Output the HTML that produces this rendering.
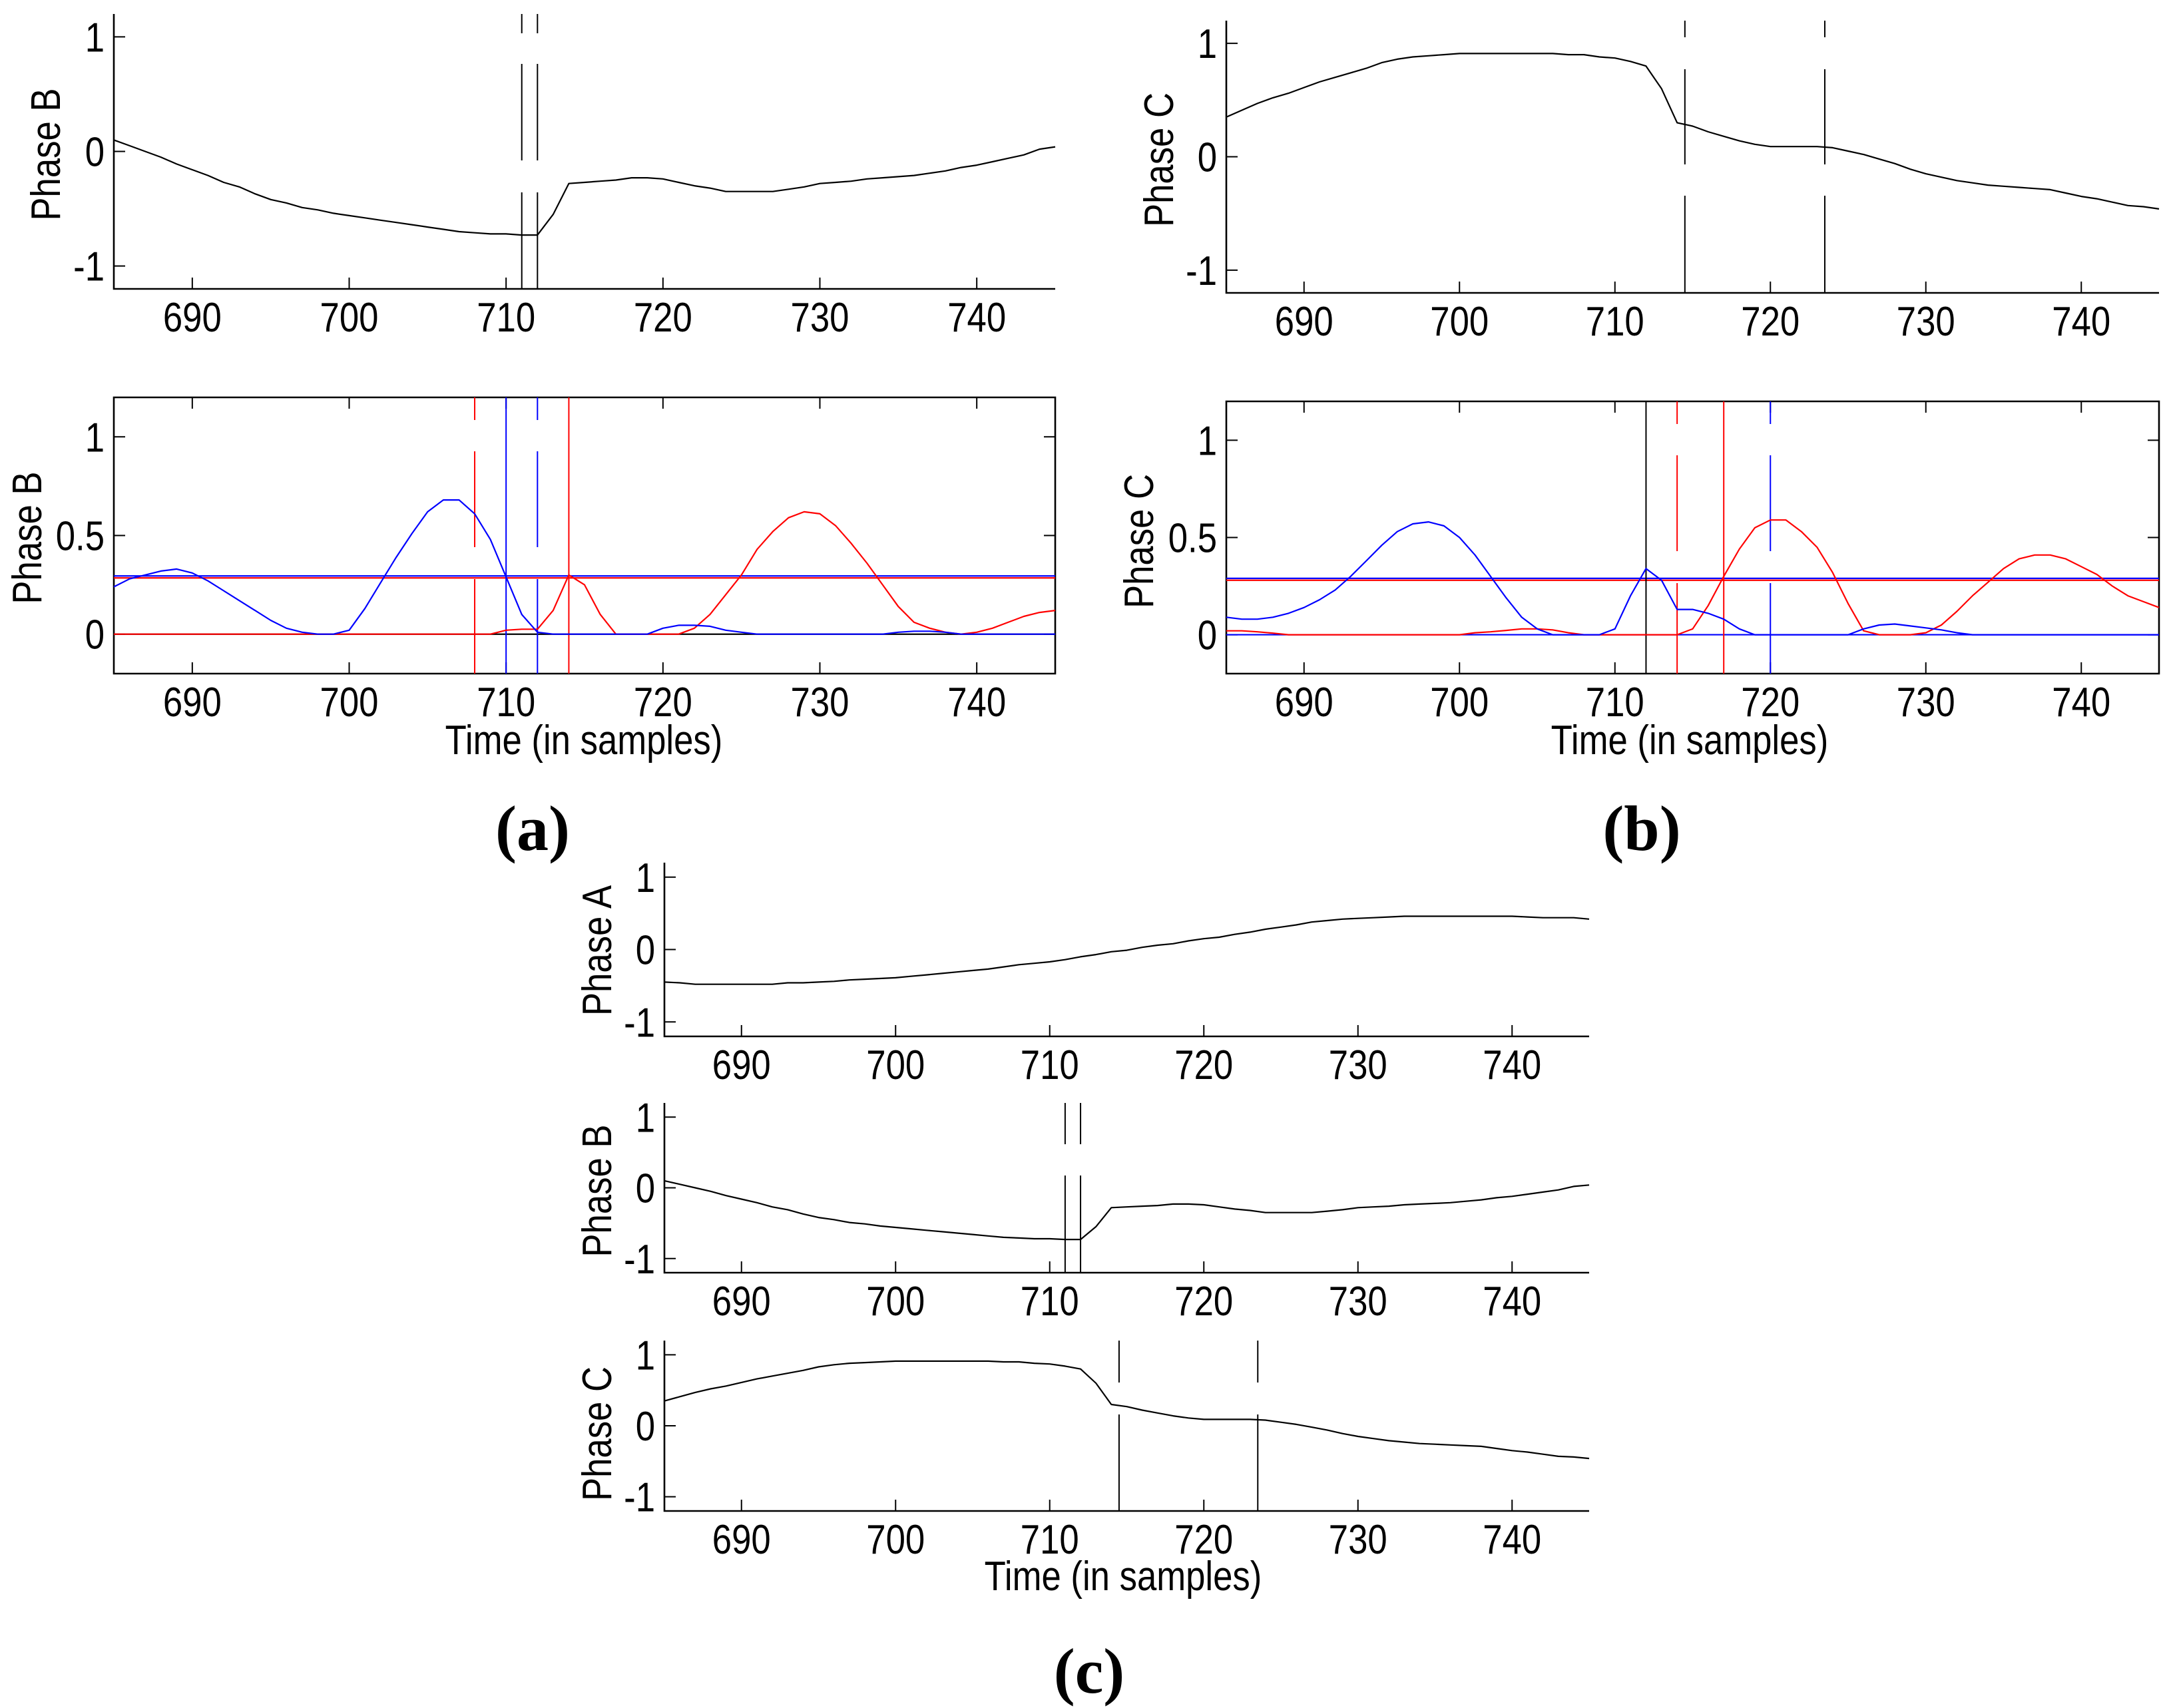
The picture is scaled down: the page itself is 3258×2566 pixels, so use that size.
<!DOCTYPE html>
<html><head><meta charset="utf-8"><style>
html,body{margin:0;padding:0;background:#fff;}
svg{display:block;}
text{font-family:"Liberation Sans",sans-serif;fill:#000;}
</style></head><body>
<svg id="fig" width="3258" height="2566" viewBox="0 0 3258 2566" xmlns="http://www.w3.org/2000/svg"></svg>
<script>
// ---- data (samples 685..745) ----
const samples = [];
for (let s = 685; s <= 745; s++) samples.push(s);
const xTicks = [690, 700, 710, 720, 730, 740];
const yTicksSignal = [-1, 0, 1];
const yTicksDetect = [0, 0.5, 1];
const yTickLabelsDetect = ["0", "0.5", "1"];

const phaseA = [-0.45,-0.46,-0.48,-0.48,-0.48,-0.48,-0.48,-0.48,-0.46,-0.46,
 -0.45,-0.44,-0.42,-0.41,-0.40,-0.39,-0.37,-0.35,-0.33,-0.31,
 -0.29,-0.27,-0.24,-0.21,-0.19,-0.17,-0.14,-0.10,-0.07,-0.03,
 -0.01,0.03,0.06,0.08,0.12,0.15,0.17,0.21,0.24,0.28,
 0.31,0.34,0.38,0.40,0.42,0.43,0.44,0.45,0.46,0.46,
 0.46,0.46,0.46,0.46,0.46,0.46,0.45,0.44,0.44,0.44,0.42];
const phaseB = [0.10,0.05,0.0,-0.05,-0.11,-0.16,-0.21,-0.27,-0.31,-0.37,
 -0.42,-0.45,-0.49,-0.51,-0.54,-0.56,-0.58,-0.60,-0.62,-0.64,
 -0.66,-0.68,-0.70,-0.71,-0.72,-0.72,-0.73,-0.73,-0.55,-0.28,
 -0.27,-0.26,-0.25,-0.23,-0.23,-0.24,-0.27,-0.30,-0.32,-0.35,
 -0.35,-0.35,-0.35,-0.33,-0.31,-0.28,-0.27,-0.26,-0.24,-0.23,
 -0.22,-0.21,-0.19,-0.17,-0.14,-0.12,-0.09,-0.06,-0.03,0.02,0.04];
const phaseC = [0.35,0.41,0.47,0.52,0.56,0.61,0.66,0.70,0.74,0.78,
 0.83,0.86,0.88,0.89,0.90,0.91,0.91,0.91,0.91,0.91,
 0.91,0.91,0.90,0.90,0.88,0.87,0.84,0.80,0.60,0.30,
 0.27,0.22,0.18,0.14,0.11,0.09,0.09,0.09,0.09,0.08,
 0.05,0.02,-0.02,-0.06,-0.11,-0.15,-0.18,-0.21,-0.23,-0.25,
 -0.26,-0.27,-0.28,-0.29,-0.32,-0.35,-0.37,-0.40,-0.43,-0.44,-0.46];
const blueB = [0.24,0.28,0.30,0.32,0.33,0.31,0.27,0.22,0.17,0.12,
 0.07,0.03,0.01,0,0,0.02,0.13,0.26,0.39,0.51,
 0.62,0.68,0.68,0.61,0.48,0.29,0.10,0.01,0,0,
 0,0,0,0,0,0.03,0.045,0.045,0.04,0.02,
 0.01,0,0,0,0,0,0,0,0,0,
 0.01,0.015,0.015,0.01,0,0,0,0,0,0,0];
const redB = [0,0,0,0,0,0,0,0,0,0,
 0,0,0,0,0,0,0,0,0,0,
 0,0,0,0,0,0.02,0.025,0.025,0.12,0.30,
 0.25,0.10,0,0,0,0,0,0.03,0.10,0.20,
 0.30,0.43,0.52,0.59,0.62,0.61,0.55,0.46,0.36,0.25,
 0.14,0.06,0.03,0.01,0,0.01,0.03,0.06,0.09,0.11,0.12];
const blueC = [0.09,0.08,0.08,0.09,0.11,0.14,0.18,0.23,0.30,0.38,
 0.46,0.53,0.57,0.58,0.56,0.50,0.41,0.30,0.19,0.09,
 0.03,0,0,0,0,0.03,0.20,0.34,0.28,0.13,
 0.13,0.11,0.08,0.03,0,0,0,0,0,0,
 0,0.03,0.05,0.055,0.045,0.035,0.025,0.01,0,0,
 0,0,0,0,0,0,0,0,0,0,0];
const redC = [0.02,0.02,0.015,0.008,0,0,0,0,0,0,
 0,0,0,0,0,0,0.01,0.015,0.022,0.03,
 0.03,0.025,0.01,0,0,0,0,0,0,0,
 0.03,0.15,0.30,0.44,0.55,0.59,0.59,0.53,0.45,0.32,
 0.16,0.02,0,0,0,0.01,0.05,0.12,0.20,0.27,
 0.34,0.39,0.41,0.41,0.39,0.35,0.31,0.25,0.20,0.17,0.14];
const thresholdsB = [0.295, 0.285];
const thresholdsC = [0.29, 0.28];
const markersAtopB = [711, 712];
const markersCtop = [714.5, 723.5];

// ---- drawing helpers ----
const NS = "http://www.w3.org/2000/svg";
const svg = document.getElementById("fig");
const FS = 62, SX = 0.85;
function el(tag, attrs, parent) {
  const e = document.createElementNS(NS, tag);
  for (const k in attrs) e.setAttribute(k, attrs[k]);
  (parent || svg).appendChild(e);
  return e;
}
function ctext(parent, x, y, txt, anchor, rot) {
  const t = el("text", {x: 0, y: 0, "font-size": FS, "text-anchor": anchor,
    transform: `translate(${x},${y})` + (rot ? " rotate(-90)" : "") + ` scale(${SX},1)`}, parent);
  t.textContent = txt;
  return t;
}
function makePanel(cfg) {
  const g = el("g", {});
  
  
  const sx = v => cfg.x0 + (v - 685) / 60 * (cfg.x1 - cfg.x0);
  const sy = v => cfg.y1 - (v - cfg.ymin) / (cfg.ymax - cfg.ymin) * (cfg.y1 - cfg.y0);
  cfg.sx = sx; cfg.sy = sy; cfg.g = g;
  return cfg;
}
function drawAxes(p, yt, ytl, box) {
  const g = p.g;
  const ax = el("path", {d: `M${p.x0},${p.y0} L${p.x0},${p.y1} L${p.x1},${p.y1}` + (box ? ` L${p.x1},${p.y0} Z` : ""), fill: "none", stroke: "#000", "stroke-width": 2.6}, g);
  
  
  xTicks.forEach(t => {
    const x = p.sx(t);
    el("line", {x1: x, x2: x, y1: p.y1, y2: p.y1 - 17, stroke: "#000", "stroke-width": 2}, g);
    if (box) el("line", {x1: x, x2: x, y1: p.y0, y2: p.y0 + 17, stroke: "#000", "stroke-width": 2}, g);
    const tx = ctext(g, x, p.y1 + 64, String(t), "middle", false);
    
    
  });
  yt.forEach((t, i) => {
    const y = p.sy(t);
    el("line", {x1: p.x0, x2: p.x0 + 17, y1: y, y2: y, stroke: "#000", "stroke-width": 2}, g);
    if (box) el("line", {x1: p.x1, x2: p.x1 - 17, y1: y, y2: y, stroke: "#000", "stroke-width": 2}, g);
    const ty = ctext(g, p.x0 - 14, y + 22, ytl[i], "end", false);
    
    
  });
  const yl = ctext(g, p.lx, p.ly, p.ylabel, "middle", true);
  
  
}
function drawSeries(p, vals, color, name) {
  const d = vals.map((v, i) => (i ? "L" : "M") + p.sx(samples[i]).toFixed(1) + "," + p.sy(v).toFixed(1)).join(" ");
  const path = el("path", {d: d, fill: "none", stroke: color, "stroke-width": 2.2, "stroke-linejoin": "round"}, p.g);
  
  
}
function drawHLine(p, v, color, name) {
  const l = el("line", {x1: p.x0, x2: p.x1, y1: p.sy(v), y2: p.sy(v), stroke: color, "stroke-width": 2.2}, p.g);
  
  
}
function drawVLine(p, s, color, dash, name) {
  const x = p.sx(s);
  const a = {x1: x, x2: x, y1: p.y0, y2: p.y1, stroke: color, "stroke-width": 2};
  if (dash) a["stroke-dasharray"] = dash;
  const l = el("line", a, p.g);
  
  
}
function label(x, y, txt, name) {
  const t = ctext(svg, x, y, txt, "middle", false);
  
  
}
function caption(x, y, txt, name) {
  const t = el("text", {x: x, y: y, "font-size": 96, "text-anchor": "middle",
    style: 'font-family:"Liberation Serif",serif;font-weight:bold'});
  t.textContent = txt;
  
  
}
const dashTop = "29 46 145 48 400";
const dashBot = "34 47 144 48 400";

// ---- panel (a) top ----
const pa1 = makePanel({name: "panel-a-phase-b", x0: 171, x1: 1585, y0: 21, y1: 434, ymin: -1.2, ymax: 1.2, ylabel: "Phase B", lx: 90, ly: 232});
drawAxes(pa1, yTicksSignal, ["-1", "0", "1"], false);
markersAtopB.forEach(s => drawVLine(pa1, s, "#000", dashTop, "fault-marker"));
drawSeries(pa1, phaseB, "#000", "phase-b-signal");

// ---- panel (a) bottom ----
const pa2 = makePanel({name: "panel-a-detection", x0: 171, x1: 1585, y0: 597, y1: 1012, ymin: -0.2, ymax: 1.2, ylabel: "Phase B", lx: 62, ly: 808});
drawAxes(pa2, yTicksDetect, yTickLabelsDetect, true);
drawHLine(pa2, 0, "#000", "zero-line");
drawHLine(pa2, thresholdsB[1], "#ff0000", "red-threshold");
drawHLine(pa2, thresholdsB[0], "#0000ff", "blue-threshold");
drawVLine(pa2, 708, "#ff0000", dashBot, "red-dashed-marker");
drawVLine(pa2, 710, "#0000ff", null, "blue-solid-marker");
drawVLine(pa2, 712, "#0000ff", dashBot, "blue-dashed-marker");
drawVLine(pa2, 714, "#ff0000", null, "red-solid-marker");
drawSeries(pa2, redB, "#ff0000", "red-index-series");
drawSeries(pa2, blueB, "#0000ff", "blue-index-series");
label(877, 1133, "Time (in samples)", "x-axis-title-a");
caption(800, 1277, "(a)", "caption-a");

// ---- panel (b) top ----
const pb1 = makePanel({name: "panel-b-phase-c", x0: 1842, x1: 3243, y0: 31, y1: 440, ymin: -1.2, ymax: 1.2, ylabel: "Phase C", lx: 1762, ly: 240});
drawAxes(pb1, yTicksSignal, ["-1", "0", "1"], false);
markersCtop.forEach(s => drawVLine(pb1, s, "#000", "25 48 143 47 400", "fault-marker"));
drawSeries(pb1, phaseC, "#000", "phase-c-signal");

// ---- panel (b) bottom ----
const pb2 = makePanel({name: "panel-b-detection", x0: 1842, x1: 3243, y0: 603, y1: 1012, ymin: -0.2, ymax: 1.2, ylabel: "Phase C", lx: 1732, ly: 813});
drawAxes(pb2, yTicksDetect, yTickLabelsDetect, true);
drawHLine(pb2, 0, "#0000ff", "zero-line");
drawHLine(pb2, thresholdsC[1], "#ff0000", "red-threshold");
drawHLine(pb2, thresholdsC[0], "#0000ff", "blue-threshold");
drawVLine(pb2, 712, "#000", null, "black-solid-marker");
drawVLine(pb2, 714, "#ff0000", dashBot, "red-dashed-marker");
drawVLine(pb2, 717, "#ff0000", null, "red-solid-marker");
drawVLine(pb2, 720, "#0000ff", dashBot, "blue-dashed-marker");
drawSeries(pb2, redC, "#ff0000", "red-index-series");
drawSeries(pb2, blueC, "#0000ff", "blue-index-series");
label(2538, 1133, "Time (in samples)", "x-axis-title-b");
caption(2466, 1277, "(b)", "caption-b");

// ---- panel (c) ----
const pc1 = makePanel({name: "panel-c-phase-a", x0: 998, x1: 2387, y0: 1296, y1: 1557, ymin: -1.2, ymax: 1.2, ylabel: "Phase A", lx: 918, ly: 1428});
drawAxes(pc1, yTicksSignal, ["-1", "0", "1"], false);
drawSeries(pc1, phaseA, "#000", "phase-a-signal");

const pc2 = makePanel({name: "panel-c-phase-b", x0: 998, x1: 2387, y0: 1657, y1: 1912, ymin: -1.2, ymax: 1.2, ylabel: "Phase B", lx: 918, ly: 1789});
drawAxes(pc2, yTicksSignal, ["-1", "0", "1"], false);
markersAtopB.forEach(s => drawVLine(pc2, s, "#000", "62 47 500", "fault-marker"));
drawSeries(pc2, phaseB, "#000", "phase-b-signal");

const pc3 = makePanel({name: "panel-c-phase-c", x0: 998, x1: 2387, y0: 2014, y1: 2270, ymin: -1.2, ymax: 1.2, ylabel: "Phase C", lx: 918, ly: 2154});
drawAxes(pc3, yTicksSignal, ["-1", "0", "1"], false);
markersCtop.forEach(s => drawVLine(pc3, s, "#000", "63 48 500", "fault-marker"));
drawSeries(pc3, phaseC, "#000", "phase-c-signal");
label(1687, 2389, "Time (in samples)", "x-axis-title-c");
caption(1636, 2543, "(c)", "caption-c");
</script>
</body></html>
